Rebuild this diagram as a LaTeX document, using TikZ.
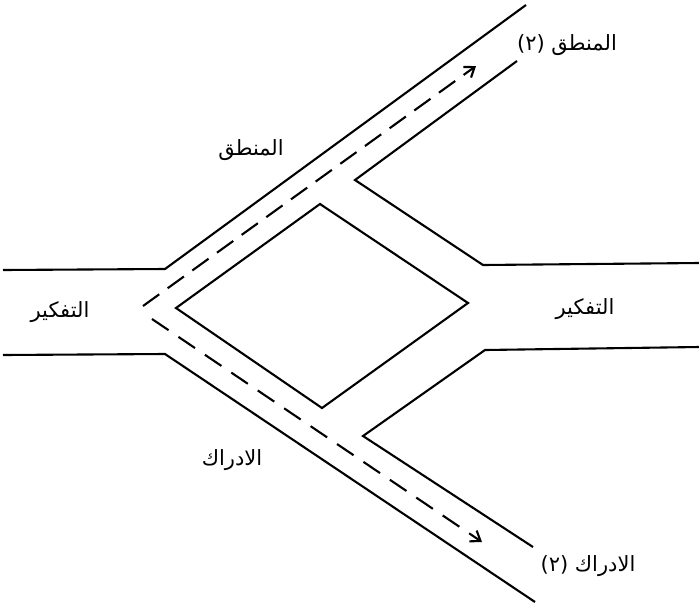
\documentclass[tikz,border=0pt]{standalone}
\usepackage{fontspec}
\TeXXeTstate=1
\newfontfamily\arabicfont[Script=Arabic]{DejaVu Sans}
\usetikzlibrary{arrows.meta}
\begin{document}
\begin{tikzpicture}[x=1pt,y=-1pt,
  wall/.style={line width=2.1pt, line join=miter},
  route/.style={line width=2.1pt,
    -{Straight Barb[length=9pt,width=13pt,line width=2.1pt]}},
  lbl/.style={font=\arabicfont\fontsize{21}{24}\selectfont, inner sep=0pt}]
\useasboundingbox (0,0) rectangle (699,606);
% coordinates
\coordinate (L1) at (3,270);
\coordinate (C1) at (165,269);
\coordinate (T1) at (526,5);
\coordinate (L2) at (3,355);
\coordinate (C2) at (165,354);
\coordinate (B1) at (535,602);
\coordinate (Dl) at (176,308);
\coordinate (Dt) at (320,204);
\coordinate (Dr) at (468,303);
\coordinate (Db) at (322,408);
\coordinate (U1) at (355,180);
\coordinate (U2) at (517,61);
\coordinate (R1) at (483,265);
\coordinate (R1e) at (699,263);
\coordinate (W1) at (363,436);
\coordinate (W2) at (533,547);
\coordinate (R2) at (485,350);
\coordinate (R2e) at (699,347);
\coordinate (A1s) at (143,306);
\coordinate (A1e) at (476,66);
\coordinate (A2s) at (152,319);
\coordinate (A2e) at (482,542);
% walls
\draw[wall] (L1) -- (C1) -- (T1);
\draw[wall] (L2) -- (C2) -- (B1);
\draw[wall] (Dl) -- (Dt) -- (Dr) -- (Db) -- cycle;
\draw[wall] (U2) -- (U1) -- (R1) -- (R1e);
\draw[wall] (W2) -- (W1) -- (R2) -- (R2e);
% routes
\draw[route, dash pattern=on 20pt off 10.4pt] (A1s) -- (A1e);
\draw[route, dash pattern=on 20pt off 11.9pt] (A2s) -- (A2e);
% labels
\node[lbl] (m2) at (567,45) {\beginR المنطق (٢)\endR};
\node[lbl] (m1) at (251,150) {\beginR المنطق\endR};
\node[lbl] (tl) at (60,312) {\beginR التفكير\endR};
\node[lbl] (tr) at (585,309) {\beginR التفكير\endR};
\node[lbl] (i1) at (232,460) {\beginR الادراك\endR};
\node[lbl] (i2) at (588,566) {\beginR الادراك (٢)\endR};
\end{tikzpicture}
\end{document}
